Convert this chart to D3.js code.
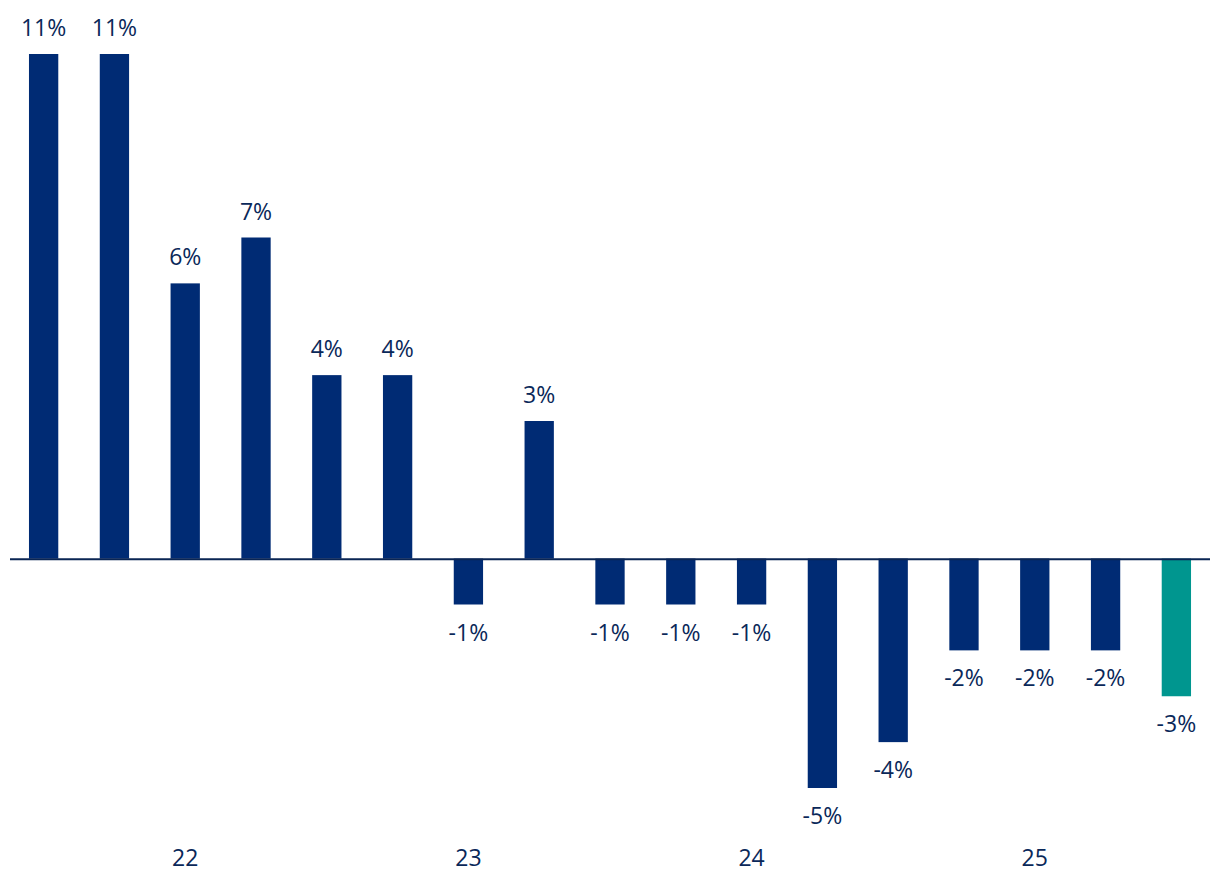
<!DOCTYPE html>
<html>
<head>
<meta charset="utf-8">
<script src="https://cdn.jsdelivr.net/npm/d3@7"></script>
<style>
  html, body { margin: 0; padding: 0; background: #ffffff; }
  svg { display: block; }
  text { font-family: "Open Sans", sans-serif; }
</style>
</head>
<body>
<svg id="chart" width="1220" height="896"></svg>
<script>
// Categories (quarters), values (%), highlighted last bar
const categories = ["Q3 21","Q4 21","Q1 22","Q2 22","Q3 22","Q4 22","Q1 23","Q2 23","Q3 23","Q4 23","Q1 24","Q2 24","Q3 24","Q4 24","Q1 25","Q2 25","Q3 25"];
const values = [11, 11, 6, 7, 4, 4, -1, 3, -1, -1, -1, -5, -4, -2, -2, -2, -3];
const highlight = [false,false,false,false,false,false,false,false,false,false,false,false,false,false,false,false,true];
const tickCategories = ["Q1 22","Q1 23","Q1 24","Q1 25"];
const tickLabels = ["22","23","24","25"];

const svg = d3.select("#chart");
const navy = "#002B74";
const teal = "#00968F";
const textColor = "#0A2859";

const x = d3.scaleBand()
  .domain(categories)
  .range([10, 1210])
  .paddingInner(0.586)
  .paddingOuter(0.268);

const y = d3.scaleLinear()
  .domain([-5, 11])
  .range([788, 54]);

// Bars
svg.append("g").selectAll("rect")
  .data(values)
  .join("rect")
  .attr("x", (d, i) => x(categories[i]))
  .attr("width", x.bandwidth())
  .attr("y", d => y(Math.max(0, d)))
  .attr("height", d => Math.abs(y(d) - y(0)))
  .attr("fill", (d, i) => highlight[i] ? teal : navy);

// Zero line
svg.append("line")
  .attr("x1", 10).attr("x2", 1210)
  .attr("y1", y(0) + 0.5).attr("y2", y(0) + 0.5)
  .attr("stroke", "#0A2553")
  .attr("stroke-width", 2);

// Value labels
svg.append("g").selectAll("text")
  .data(values)
  .join("text")
  .attr("x", (d, i) => x(categories[i]) + x.bandwidth() / 2)
  .attr("y", d => d >= 0 ? y(d) - 18 : y(d) + 36)
  .attr("text-anchor", "middle")
  .attr("font-size", "23px")
  .attr("fill", textColor)
  .text(d => d + "%");

// X axis tick labels
const axis = d3.axisBottom(x)
  .tickValues(tickCategories)
  .tickFormat(c => tickLabels[tickCategories.indexOf(c)])
  .tickSize(0)
  .tickPadding(0);

const gx = svg.append("g")
  .attr("transform", "translate(0,850)")
  .call(axis);
gx.select(".domain").remove();
gx.selectAll("text")
  .attr("font-family", "'Open Sans', sans-serif")
  .attr("font-size", "23px")
  .attr("fill", textColor)
  .attr("dy", "0.71em");
</script>
</body>
</html>
